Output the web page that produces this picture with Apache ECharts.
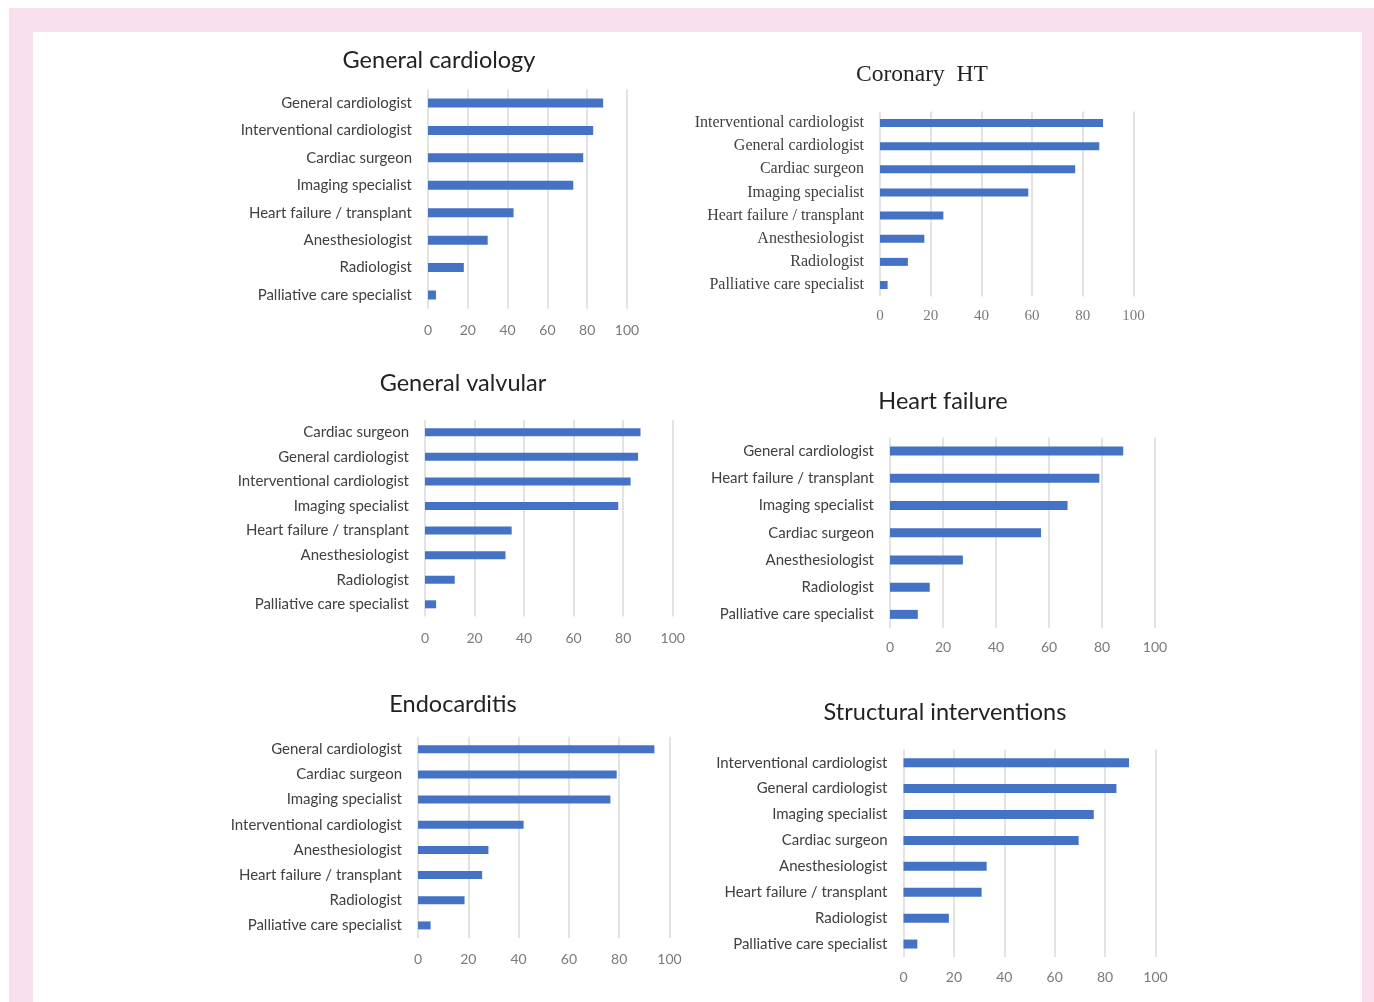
<!DOCTYPE html>
<html>
<head>
<meta charset="utf-8">
<script src="https://cdn.jsdelivr.net/npm/echarts@6/dist/echarts.min.js"></script>
<style>
  html, body { margin: 0; padding: 0; background: #fff; overflow: hidden; }
  #frame { position: absolute; left: 9px; top: 8px; width: 1365px; height: 1000px; background: #f8e0ee; }
  #sheet { position: absolute; left: 24px; top: 24px; width: 1329px; height: 980px; background: #fff; }
  #chart { position: absolute; left: 0; top: 0; width: 1374px; height: 1002px; }
</style>
</head>
<body>
<div id="frame"><div id="sheet"></div></div>
<div id="chart"></div>
<script>
// Share of respondents (%) naming each specialist as a heart-team member, per scenario
const generalCardiologyCats = ['General cardiologist', 'Interventional cardiologist', 'Cardiac surgeon', 'Imaging specialist', 'Heart failure / transplant', 'Anesthesiologist', 'Radiologist', 'Palliative care specialist'];
const generalCardiologyVals = [88, 83, 78, 73, 43, 30, 18, 4];

const coronaryCats = ['Interventional cardiologist', 'General cardiologist', 'Cardiac surgeon', 'Imaging specialist', 'Heart failure / transplant', 'Anesthesiologist', 'Radiologist', 'Palliative care specialist'];
const coronaryVals = [88, 86.5, 77, 58.5, 25, 17.5, 11, 3];

const valvularCats = ['Cardiac surgeon', 'General cardiologist', 'Interventional cardiologist', 'Imaging specialist', 'Heart failure / transplant', 'Anesthesiologist', 'Radiologist', 'Palliative care specialist'];
const valvularVals = [87, 86, 83, 78, 35, 32.5, 12, 4.5];

const heartFailureCats = ['General cardiologist', 'Heart failure / transplant', 'Imaging specialist', 'Cardiac surgeon', 'Anesthesiologist', 'Radiologist', 'Palliative care specialist'];
const heartFailureVals = [88, 79, 67, 57, 27.5, 15, 10.5];

const endocarditisCats = ['General cardiologist', 'Cardiac surgeon', 'Imaging specialist', 'Interventional cardiologist', 'Anesthesiologist', 'Heart failure / transplant', 'Radiologist', 'Palliative care specialist'];
const endocarditisVals = [94, 79, 76.5, 42, 28, 25.5, 18.5, 5];

const structuralCats = ['Interventional cardiologist', 'General cardiologist', 'Imaging specialist', 'Cardiac surgeon', 'Anesthesiologist', 'Heart failure / transplant', 'Radiologist', 'Palliative care specialist'];
const structuralVals = [89.5, 84.5, 75.5, 69.5, 33, 31, 18, 5.5];

const panelTitles = ['General cardiology', 'Coronary  HT', 'General valvular', 'Heart failure', 'Endocarditis', 'Structural interventions'];
const xMin = 0, xMax = 100, xStep = 20;

// Placement and styling of each small chart
const panels = [
  { title: panelTitles[0], cats: generalCardiologyCats, vals: generalCardiologyVals,
    tx: 439, ty: 60, left: 428, top: 89.3, width: 199, height: 219.4, bw: 9, font: 'Lato', tickMargin: 15 },
  { title: panelTitles[1], cats: coronaryCats, vals: coronaryVals,
    tx: 922, ty: 75, left: 880, top: 111.4, width: 253.5, height: 185.2, bw: 8, font: 'Liberation Serif', tickMargin: 12, serif: true },
  { title: panelTitles[2], cats: valvularCats, vals: valvularVals,
    tx: 463, ty: 383, left: 425, top: 420, width: 247.7, height: 196.6, bw: 8, font: 'Lato', tickMargin: 15 },
  { title: panelTitles[3], cats: heartFailureCats, vals: heartFailureVals,
    tx: 943, ty: 401.5, left: 890, top: 437.4, width: 265, height: 190.6, bw: 9, font: 'Lato', tickMargin: 12.5 },
  { title: panelTitles[4], cats: endocarditisCats, vals: endocarditisVals,
    tx: 453, ty: 704, left: 418, top: 736.7, width: 251.5, height: 201.3, bw: 8, font: 'Lato', tickMargin: 14 },
  { title: panelTitles[5], cats: structuralCats, vals: structuralVals,
    tx: 945, ty: 712, left: 903.5, top: 749.7, width: 252, height: 207.3, bw: 9, font: 'Lato', tickMargin: 13.5 }
];

const barColor = '#4472c4';
const option = {
  animation: false,
  title: [], grid: [], xAxis: [], yAxis: [], series: []
};

panels.forEach((p, i) => {
  option.title.push({
    text: p.title,
    left: p.tx, top: p.ty,
    textAlign: 'center', textVerticalAlign: 'middle',
    padding: 0,
    textStyle: {
      fontFamily: p.font, fontWeight: 'normal',
      fontSize: 23.5, color: '#222'
    }
  });
  option.grid.push({ left: p.left, top: p.top, width: p.width, height: p.height, containLabel: false });
  option.xAxis.push({
    type: 'value', gridIndex: i, min: xMin, max: xMax, interval: xStep,
    axisLine: { show: false }, axisTick: { show: false },
    axisLabel: { margin: p.tickMargin, color: '#7a7a7a', fontFamily: p.font, fontSize: p.serif ? 15 : 14 },
    splitLine: { show: true, lineStyle: { color: '#dadada', width: 1.5 } }
  });
  option.yAxis.push({
    type: 'category', gridIndex: i, data: p.cats, inverse: true,
    axisLine: { show: false }, axisTick: { show: false },
    axisLabel: { margin: 16, color: '#404040', fontFamily: p.font, fontSize: p.serif ? 16 : 15 },
    splitLine: { show: false }
  });
  option.series.push({
    type: 'bar', xAxisIndex: i, yAxisIndex: i, data: p.vals,
    barWidth: p.bw, itemStyle: { color: barColor }, silent: true
  });
});

const chart = echarts.init(document.getElementById('chart'), null, { renderer: 'canvas' });
chart.setOption(option);
</script>
</body>
</html>
